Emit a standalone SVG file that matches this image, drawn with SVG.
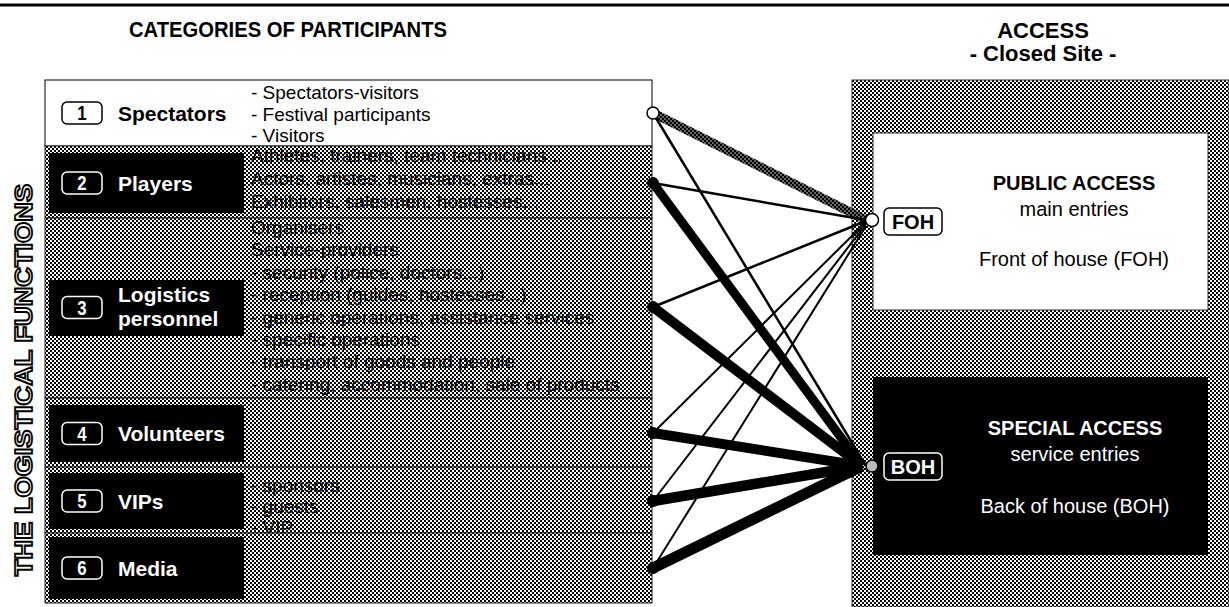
<svg xmlns="http://www.w3.org/2000/svg" width="1229" height="607" viewBox="0 0 1229 607">
<defs>
<pattern id="hatch" width="4" height="4" patternUnits="userSpaceOnUse">
<rect width="4" height="4" fill="#fff"/>
<rect width="2" height="2" fill="#000"/>
<rect x="2" y="2" width="2" height="2" fill="#000"/>
</pattern>
<pattern id="checks" width="4" height="4" patternUnits="userSpaceOnUse">
<rect width="2" height="2" fill="#000"/>
<rect x="2" y="2" width="2" height="2" fill="#000"/>
</pattern>
</defs>
<style>
.t{font-family:"Liberation Sans",Arial,Helvetica,sans-serif}
.title{font-size:22px;font-weight:bold;text-anchor:middle}
.ttl2{font-size:22px;font-weight:bold;text-anchor:middle}
.lbl{font-size:21px;font-weight:bold;fill:#fff}
.lblk{font-size:21px;font-weight:bold;fill:#000}
.desc{font-size:19px;fill:#000}
.num{font-size:21px;font-weight:bold;text-anchor:middle;fill:#fff}
.numk{font-size:21px;font-weight:bold;text-anchor:middle;fill:#000}
.row{fill:url(#hatch);stroke:#222;stroke-width:1}
.blk{fill:#000}
.badge{fill:#000;stroke:#fff;stroke-width:1.5}
.badgek{fill:#fff;stroke:#000;stroke-width:1.5}
.acc{font-size:20px;text-anchor:middle}
.accb{font-size:20px;font-weight:bold;text-anchor:middle}
.c line{stroke:#000;fill:none}
.dot{fill:#000;stroke:#000;stroke-width:1}
</style>
<rect width="1229" height="607" fill="#fff"/>
<line x1="0" y1="5" x2="1229" y2="5" stroke="#000" stroke-width="3"/>
<text class="t title" x="288" y="37" textLength="318" lengthAdjust="spacingAndGlyphs">CATEGORIES OF PARTICIPANTS</text>
<text class="t ttl2" x="1043" y="38">ACCESS</text>
<text class="t ttl2" x="1043" y="61">- Closed Site -</text>
<text class="t" transform="translate(32,380) rotate(-90)" text-anchor="middle" font-size="24" font-weight="bold" fill="#fff" stroke="#000" stroke-width="1.8" textLength="392" lengthAdjust="spacingAndGlyphs">THE LOGISTICAL FUNCTIONS</text>

<g id="row1">
<rect x="45" y="80" width="607" height="66" fill="#fff" stroke="#000" stroke-width="1"/>
<rect class="badgek" x="62" y="102" width="40" height="22" rx="5"/>
<text class="t numk" x="82" y="120.5" transform="translate(82,0) scale(0.8,1) translate(-82,0)">1</text>
<text class="t lblk" x="118" y="120.5">Spectators</text>
<text class="t desc" x="251" y="99">- Spectators-visitors</text>
<text class="t desc" x="251" y="120.5">- Festival participants</text>
<text class="t desc" x="251" y="142">- Visitors</text>
</g>

<g id="row2">
<rect class="row" x="45" y="146" width="607" height="72"/>
<rect class="blk" x="49" y="153" width="195" height="60"/>
<rect class="badge" x="62" y="172" width="40" height="22" rx="5"/>
<text class="t num" x="82" y="190.5" transform="translate(82,0) scale(0.8,1) translate(-82,0)">2</text>
<text class="t lbl" x="118" y="190.5">Players</text>
<text class="t desc" x="251" y="162">Athletes, trainers, team technicians...</text>
<text class="t desc" x="251" y="185">Actors, artistes, musicians, extras...</text>
<text class="t desc" x="251" y="208">Exhibitors, salesmen, hostesses...</text>
</g>

<g id="row3">
<rect class="row" x="45" y="218" width="607" height="180"/>
<rect class="blk" x="49" y="280" width="195" height="56"/>
<rect class="badge" x="62" y="296.5" width="40" height="22" rx="5"/>
<text class="t num" x="82" y="315" transform="translate(82,0) scale(0.8,1) translate(-82,0)">3</text>
<text class="t lbl" x="118" y="302">Logistics</text>
<text class="t lbl" x="118" y="326">personnel</text>
<text class="t desc" x="251" y="234">Organisers</text>
<text class="t desc" x="251" y="256.4">Service-providers</text>
<text class="t desc" x="251" y="278.8">- security (police, doctors...)</text>
<text class="t desc" x="251" y="301.2">- reception (guides, hostesses...)</text>
<text class="t desc" x="251" y="323.6">- generic operations, assistance services</text>
<text class="t desc" x="251" y="346">- specific operations</text>
<text class="t desc" x="251" y="368.4">- transport of goods and people</text>
<text class="t desc" x="251" y="390.8">- catering, accommodation, sale of products</text>
</g>

<g id="row4">
<rect class="row" x="45" y="398" width="607" height="69"/>
<rect class="blk" x="49" y="405" width="195" height="57"/>
<rect class="badge" x="62" y="422.5" width="40" height="22" rx="5"/>
<text class="t num" x="82" y="441" transform="translate(82,0) scale(0.8,1) translate(-82,0)">4</text>
<text class="t lbl" x="118" y="441">Volunteers</text>
</g>

<g id="row5">
<rect class="row" x="45" y="467" width="607" height="66"/>
<rect class="blk" x="49" y="473" width="195" height="56"/>
<rect class="badge" x="62" y="490" width="40" height="22" rx="5"/>
<text class="t num" x="82" y="508.5" transform="translate(82,0) scale(0.8,1) translate(-82,0)">5</text>
<text class="t lbl" x="118" y="508.5">VIPs</text>
<text class="t desc" x="251" y="492">- sponsors</text>
<text class="t desc" x="251" y="513">- guests</text>
<text class="t desc" x="251" y="534">- VIP</text>
</g>

<g id="row6">
<rect class="row" x="45" y="533" width="607" height="70"/>
<rect class="blk" x="49" y="537" width="195" height="62"/>
<rect class="badge" x="62" y="557" width="40" height="22" rx="5"/>
<text class="t num" x="82" y="575.5" transform="translate(82,0) scale(0.8,1) translate(-82,0)">6</text>
<text class="t lbl" x="118" y="575.5">Media</text>
</g>

<g id="site">
<rect x="852" y="80" width="377" height="527" fill="url(#hatch)" stroke="#333" stroke-width="1"/>
</g>

<g id="foh">
<rect x="873" y="133" width="335" height="177" fill="#fff" stroke="#333" stroke-width="1"/>
<text class="t accb" x="1074" y="190">PUBLIC ACCESS</text>
<text class="t acc" x="1074" y="216">main entries</text>
<text class="t acc" x="1074" y="266">Front of house (FOH)</text>
<rect x="884" y="208" width="58" height="27" rx="5" fill="#fff" stroke="#000" stroke-width="1.5"/>
<text class="t accb" x="913" y="229">FOH</text>
</g>

<g id="boh">
<rect x="873" y="377" width="335" height="178" fill="#000"/>
<text class="t accb" x="1075" y="435" fill="#fff">SPECIAL ACCESS</text>
<text class="t acc" x="1075" y="461" fill="#fff">service entries</text>
<text class="t acc" x="1075" y="513" fill="#fff">Back of house (BOH)</text>
<rect x="884" y="453" width="58" height="27" rx="5" fill="#000" stroke="#fff" stroke-width="1.5"/>
<text class="t accb" x="913" y="474" fill="#fff">BOH</text>
</g>

<g id="connectors" class="c">
<line x1="653" y1="113" x2="866" y2="220" style="stroke:#666" stroke-width="9"/>
<line x1="653" y1="113" x2="866" y2="220" style="stroke:url(#checks)" stroke-width="9"/>
<line x1="653" y1="113" x2="866" y2="466" stroke-width="2.5"/>
<line x1="653" y1="183" x2="866" y2="220" stroke-width="2.5"/>
<line x1="653" y1="183" x2="862" y2="466" stroke-width="9"/>
<line x1="653" y1="307" x2="866" y2="221" stroke-width="2.5"/>
<line x1="653" y1="307" x2="862" y2="466" stroke-width="10"/>
<line x1="653" y1="433" x2="866" y2="222" stroke-width="2"/>
<line x1="653" y1="433" x2="862" y2="466" stroke-width="10"/>
<line x1="653" y1="501" x2="866" y2="224" stroke-width="2"/>
<line x1="653" y1="501" x2="862" y2="466" stroke-width="10.5"/>
<line x1="653" y1="568" x2="866" y2="226" stroke-width="2"/>
<line x1="653" y1="568" x2="862" y2="466" stroke-width="11"/>
</g>

<g id="ports">
<circle cx="653" cy="113" r="6" fill="#fff" stroke="#000" stroke-width="1.5"/>
<circle class="dot" cx="653" cy="183" r="5.5"/>
<circle class="dot" cx="653" cy="307" r="5.5"/>
<circle class="dot" cx="653" cy="433" r="5.5"/>
<circle class="dot" cx="653" cy="501" r="5.5"/>
<circle class="dot" cx="653" cy="568" r="5.5"/>
<circle cx="872" cy="220" r="6.5" fill="#fff" stroke="#000" stroke-width="1.5"/>
<circle cx="872" cy="466" r="6" fill="#bbb" stroke="#000" stroke-width="1.5"/>
</g>
</svg>
